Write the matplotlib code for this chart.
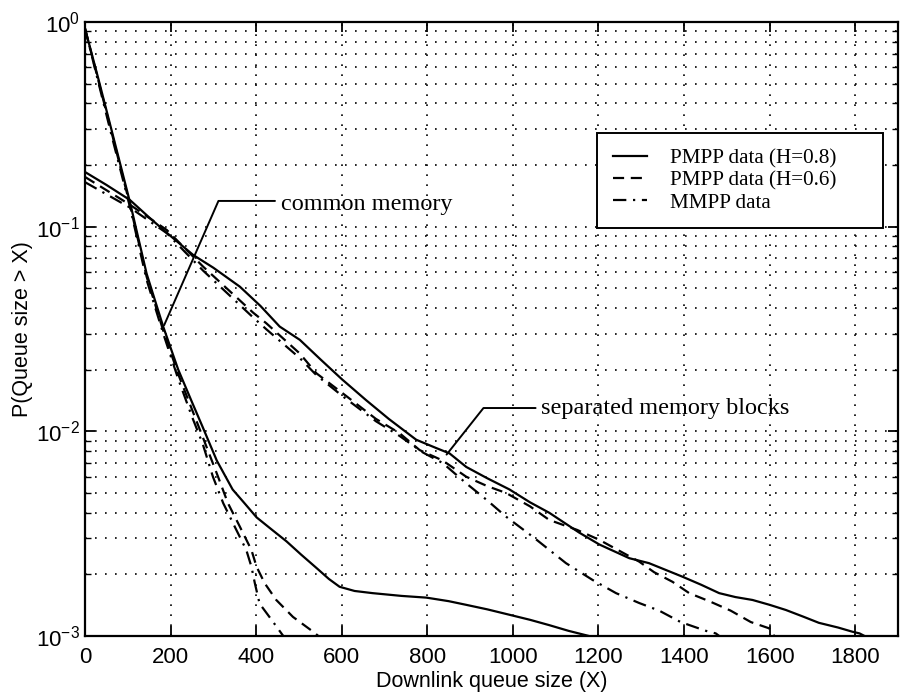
import matplotlib
matplotlib.use('Agg')
from matplotlib import pyplot as plt

# common memory case
cm_x_h08 = [0, 30, 62, 105, 144, 183, 218, 250, 275, 308, 345, 375, 401, 435, 471,
            505, 541, 570, 595, 630, 672, 740, 798, 850, 891, 940, 992, 1040, 1085,
            1130, 1178, 1195]
cm_p_h08 = [0.93, 0.54, 0.297, 0.132, 0.059, 0.0324, 0.0200, 0.0139, 0.0105, 0.0072,
            0.0052, 0.0044, 0.0038, 0.00333, 0.0029, 0.0025, 0.00215, 0.0019, 0.00174,
            0.00166, 0.00162, 0.00157, 0.00154, 0.00148, 0.00142, 0.00135, 0.00127,
            0.0012, 0.00113, 0.00106, 0.00100, 0.00098]

cm_x_h06 = [0, 30, 62, 105, 144, 183, 218, 250, 275, 311, 334, 362, 389, 401, 420,
            447, 486, 533, 548]
cm_p_h06 = [0.93, 0.53, 0.29, 0.128, 0.057, 0.031, 0.019, 0.0128, 0.0094, 0.0060,
            0.00446, 0.00342, 0.00263, 0.00218, 0.00181, 0.0015, 0.00124, 0.00105,
            0.00099]

cm_x_mmpp = [0, 30, 62, 105, 144, 183, 218, 250, 275, 299, 323, 350, 377, 389, 397,
             408, 436, 459, 465]
cm_p_mmpp = [0.93, 0.52, 0.28, 0.125, 0.055, 0.030, 0.018, 0.0118, 0.0087, 0.0060,
             0.00446, 0.00342, 0.00263, 0.00218, 0.00181, 0.00144, 0.0012, 0.00103,
             0.00099]

# separated memory blocks case
sm_x_h08 = [0, 50, 105, 152, 200, 253, 300, 362, 410, 455, 502, 550, 600, 657, 710,
            774, 820, 852, 891, 940, 992, 1040, 1085, 1155, 1202, 1272, 1318, 1396,
            1440, 1482, 1520, 1560, 1600, 1638, 1680, 1715, 1760, 1793, 1810, 1830]
sm_p_h08 = [0.185, 0.160, 0.135, 0.110, 0.090, 0.0727, 0.063, 0.0509, 0.041, 0.0325,
            0.028, 0.0225, 0.018, 0.0142, 0.0115, 0.0091, 0.0083, 0.0078, 0.0067,
            0.0059, 0.0052, 0.0045, 0.0040, 0.0032, 0.0028, 0.0024, 0.00227, 0.00195,
            0.00178, 0.00162, 0.00155, 0.0015, 0.00142, 0.00134, 0.00124, 0.00116,
            0.0011, 0.00105, 0.00103, 0.00098]

sm_x_h06 = [0, 105, 191, 276, 393, 424, 502, 541, 603, 680, 735, 782, 836, 891, 940,
            984, 1040, 1085, 1150, 1202, 1250, 1295, 1330, 1373, 1412, 1462, 1509,
            1556, 1599, 1612]
sm_p_h06 = [0.175, 0.128, 0.0964, 0.0638, 0.038, 0.0337, 0.024, 0.0192, 0.0153,
            0.0115, 0.0098, 0.0081, 0.0072, 0.0060, 0.0054, 0.0050, 0.0043, 0.00369,
            0.0033, 0.00295, 0.0026, 0.00231, 0.00205, 0.00184, 0.00162, 0.00147,
            0.00133, 0.00117, 0.00109, 0.00099]

sm_x_mmpp = [0, 105, 191, 276, 393, 424, 502, 541, 603, 680, 735, 789, 836, 891, 940,
             984, 1046, 1124, 1186, 1241, 1295, 1342, 1392, 1451, 1474, 1485]
sm_p_mmpp = [0.165, 0.124, 0.093, 0.061, 0.036, 0.0315, 0.0228, 0.0188, 0.0148,
             0.0112, 0.0095, 0.0079, 0.0070, 0.00557, 0.0046, 0.00383, 0.00306,
             0.00227, 0.00188, 0.00162, 0.00145, 0.00133, 0.00117, 0.00106, 0.00103,
             0.00099]

x_ticks = [0, 200, 400, 600, 800, 1000, 1200, 1400, 1600, 1800]

plt.rcParams['font.family'] = ['Liberation Sans', 'DejaVu Sans']
plt.rcParams['mathtext.default'] = 'regular'

fig = plt.figure(figsize=(9.04, 6.98), dpi=100)
ax = fig.add_axes([0.094, 0.0888, 0.8994, 0.8797])

lw = 1.6
dash = (0, (5, 3))
dashdot = (0, (6, 3, 1, 3))

ax.semilogy(cm_x_h08, cm_p_h08, color='black', linewidth=lw, label='PMPP data (H=0.8)')
ax.semilogy(cm_x_h06, cm_p_h06, color='black', linewidth=lw, linestyle=dash,
            label='PMPP data (H=0.6)')
ax.semilogy(cm_x_mmpp, cm_p_mmpp, color='black', linewidth=lw, linestyle=dashdot,
            label='MMPP data')
ax.semilogy(sm_x_h08, sm_p_h08, color='black', linewidth=lw)
ax.semilogy(sm_x_h06, sm_p_h06, color='black', linewidth=lw, linestyle=dash)
ax.semilogy(sm_x_mmpp, sm_p_mmpp, color='black', linewidth=lw, linestyle=dashdot)

ax.set_xlim(0, 1900)
ax.set_ylim(1e-3, 1)
ax.set_xticks(x_ticks)

ax.grid(True, which='major', color='black', linestyle=(0, (1, 5)), linewidth=1.2)
ax.grid(True, which='minor', axis='y', color='black', linestyle=(0, (1, 5)), linewidth=1.2)

ax.tick_params(which='both', direction='in', top=True, right=True, colors='black',
               labelsize=16)
ax.tick_params(which='major', length=7, width=1.3)
ax.tick_params(which='minor', length=4, width=1.0)
ax.tick_params(axis='x', pad=8)
for s in ax.spines.values():
    s.set_linewidth(1.6)

ax.set_xlabel('Downlink queue size (X)', fontsize=15.5, labelpad=2)
ax.set_ylabel('P(Queue size > X)', fontsize=15.5, labelpad=2)

leg = ax.legend(loc='upper left', bbox_to_anchor=(0.630, 0.665, 0.3515, 0.154),
                mode='expand', prop={'family': 'Liberation Serif', 'size': 15.2},
                handlelength=1.6, handletextpad=1.1, labelspacing=0.1,
                borderpad=0.75, fancybox=False, framealpha=1, borderaxespad=0)
leg.get_frame().set_edgecolor('black')
leg.get_frame().set_linewidth(1.4)

ax.annotate('common memory', xy=(185, 0.033), xytext=(457, 0.1277),
            fontsize=17.5, family='Liberation Serif', ha='left', va='center',
            arrowprops=dict(arrowstyle='-', color='black', linewidth=1.4,
                            relpos=(0, 0.69), shrinkB=0,
                            connectionstyle='angle,angleA=0,angleB=66.4,rad=0'))
ax.annotate('separated memory blocks', xy=(845, 0.0077), xytext=(1066, 0.0130),
            fontsize=17.5, family='Liberation Serif', ha='left', va='center',
            arrowprops=dict(arrowstyle='-', color='black', linewidth=1.4,
                            relpos=(0, 0.5), shrinkB=0,
                            connectionstyle='angle,angleA=0,angleB=51.6,rad=0'))

fig.savefig('out.png', dpi=100)
